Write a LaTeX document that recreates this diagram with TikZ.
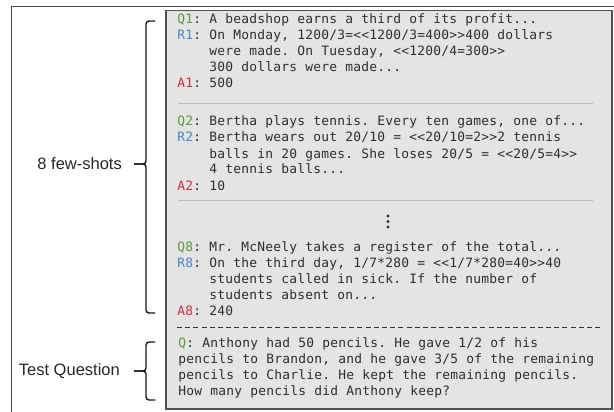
\documentclass[tikz,border=0pt]{standalone}
\usepackage{fontspec}
\setmainfont{Liberation Sans}
\newfontfamily\monofont{DejaVu Sans Mono}
\ExplSyntaxOn
\seq_new:N \l_my_words_seq
\cs_new_protected:Npn \my_word:n #1 { \tl_map_inline:nn {#1} { \makebox[8pt][c]{##1} } }
\NewDocumentCommand{\mt}{m}{
  \seq_set_split:Nnn \l_my_words_seq {~} {#1}
  \seq_map_indexed_inline:Nn \l_my_words_seq
    { \int_compare:nNnT {##1} > {1} { \hspace*{8pt} } \my_word:n {##2} }
}
\ExplSyntaxOff
\definecolor{qcol}{HTML}{5E9A3A}
\definecolor{rcol}{HTML}{4A86C8}
\definecolor{acol}{HTML}{D0303A}
\definecolor{boxfill}{HTML}{E4E4E4}
\definecolor{boxline}{HTML}{505050}
\definecolor{txt}{HTML}{2E2E2E}
\definecolor{sepcol}{HTML}{BBBBBB}
\begin{document}
\begin{tikzpicture}[x=1pt,y=-1pt,
  tline/.style={anchor=base west, inner sep=0pt, font=\monofont\fontsize{12.9}{16}\selectfont, text=txt},
  lbl/.style={font=\fontsize{16.5}{20}\selectfont, text=black!85, anchor=east, inner sep=0pt},
  brc/.style={rounded corners=3pt, line width=1.4pt, black!90}
]
\useasboundingbox (0,0) rectangle (614,412);
\draw[black!70, line width=1pt] (11,412) -- (11,7) -- (614,7);
\node[draw=boxline, fill=boxfill, line width=1.5pt, minimum width=446pt, minimum height=398pt, anchor=north west, inner sep=0pt] (box) at (165,10) {};
% block 1
\node[tline] (q1) at (177,24) {{\color{qcol}\mt{Q1}}\mt{: A beadshop earns a third of its profit...}};
\node[tline] (r1) at (177,40) {{\color{rcol}\mt{R1}}\mt{: On Monday, 1200/3=<<1200/3=400>>400 dollars}};
\node[tline] (r1b) at (209,56) {\mt{were made. On Tuesday, <<1200/4=300>>}};
\node[tline] (r1c) at (209,72) {\mt{300 dollars were made...}};
\node[tline] (a1) at (177,88) {{\color{acol}\mt{A1}}\mt{: 500}};
\draw[sepcol, line width=0.8pt] (178,103) -- (593,103);
% block 2
\node[tline] (q2) at (177,126) {{\color{qcol}\mt{Q2}}\mt{: Bertha plays tennis. Every ten games, one of...}};
\node[tline] (r2) at (177,142) {{\color{rcol}\mt{R2}}\mt{: Bertha wears out 20/10 = <<20/10=2>>2 tennis}};
\node[tline] (r2b) at (209,158) {\mt{balls in 20 games. She loses 20/5 = <<20/5=4>>}};
\node[tline] (r2c) at (209,174) {\mt{4 tennis balls...}};
\node[tline] (a2) at (177,190) {{\color{acol}\mt{A2}}\mt{: 10}};
\draw[sepcol, line width=0.8pt] (178,200) -- (593,200);
\fill[txt] (388,216) circle (1.6) (388,221.5) circle (1.6) (388,227) circle (1.6);
% block 8
\node[tline] (q8) at (177,251) {{\color{qcol}\mt{Q8}}\mt{: Mr. McNeely takes a register of the total...}};
\node[tline] (r8) at (177,267) {{\color{rcol}\mt{R8}}\mt{: On the third day, 1/7*280 = <<1/7*280=40>>40}};
\node[tline] (r8b) at (209,283) {\mt{students called in sick. If the number of}};
\node[tline] (r8c) at (209,299) {\mt{students absent on...}};
\node[tline] (a8) at (177,315) {{\color{acol}\mt{A8}}\mt{: 240}};
\draw[txt, line width=1pt, dash pattern=on 5pt off 3.2pt] (177,327) -- (603,327);
% test question
\node[tline] (tq1) at (178,347) {{\color{qcol}\mt{Q}}\mt{: Anthony had 50 pencils. He gave 1/2 of his}};
\node[tline] (tq2) at (178,363) {\mt{pencils to Brandon, and he gave 3/5 of the remaining}};
\node[tline] (tq3) at (178,379) {\mt{pencils to Charlie. He kept the remaining pencils.}};
\node[tline] (tq4) at (178,395) {\mt{How many pencils did Anthony keep?}};
% braces and labels
\draw[brc] (155,21) -- (146,21) -- (146,164) -- (134,164);
\draw[brc] (134,164) -- (146,164) -- (146,313) -- (155,313);
\draw[brc] (155,342) -- (146,342) -- (146,371) -- (134,371);
\draw[brc] (134,371) -- (146,371) -- (146,400) -- (155,400);
\node[lbl] (few) at (122,164) {8 few-shots};
\node[lbl] (test) at (120,371) {Test Question};
\end{tikzpicture}
\end{document}
